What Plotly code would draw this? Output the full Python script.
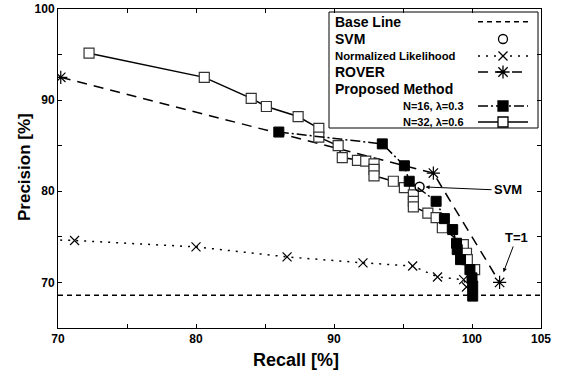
import plotly.graph_objects as go

# ---- data ----
baseline_x = [70, 105]
baseline_y = [68.6, 68.6]

svm_x = [96.2]
svm_y = [80.5]

nl_x = [69.0, 71.2, 80.0, 86.6, 92.1, 95.7, 97.5, 99.4, 99.6]
nl_y = [74.7, 74.6, 73.9, 72.8, 72.15, 71.8, 70.6, 70.3, 69.5]

rover_x = [70.2, 97.2, 102.0]
rover_y = [92.5, 82.0, 70.0]

n16_x = [86.0, 93.5, 95.1, 95.45, 97.4, 98.0, 98.6, 98.88, 98.93, 99.17, 99.85, 100.0, 100.05, 100.05]
n16_y = [86.5, 85.2, 82.8, 81.1, 78.9, 77.0, 75.8, 74.3, 73.6, 72.5, 71.4, 70.5, 69.6, 68.5]

n32_x = [72.25, 80.6, 84.0, 85.1, 87.4, 88.9, 88.9, 90.3, 90.6, 91.7, 92.3, 92.9, 92.9, 92.9,
         94.3, 95.1, 95.75, 95.75, 95.75, 96.8, 97.4, 97.85, 99.37, 99.6, 99.66, 100.19]
n32_y = [95.15, 92.5, 90.2, 89.3, 88.2, 86.9, 85.95, 85.0, 83.7, 83.4, 83.3, 83.0, 82.4, 81.7,
         81.1, 80.4, 79.6, 78.9, 78.3, 77.6, 77.1, 76.0, 74.15, 73.2, 72.5, 71.4]

x_ticks = [70, 75, 80, 85, 90, 95, 100, 105]
x_ticklabels = ["70", "", "80", "", "90", "", "100", "105"]
y_ticks = [65, 70, 75, 80, 85, 90, 95, 100]
y_ticklabels = ["", "70", "", "80", "", "90", "", "100"]

legend_labels = ["Base Line", "SVM", "Normalized Likelihood", "ROVER", "Proposed Method",
                 "N=16, λ=0.3", "N=32, λ=0.6"]

FONT = "Liberation Sans"
BLK = "black"
W, H = 561, 371
ML, MR, MT, MB = 58, 20, 9, 43


def px(v):
    return (v - ML) / (W - ML - MR)


def py(v):
    return (H - MB - v) / (H - MT - MB)


fig = go.Figure()

fig.add_trace(go.Scatter(x=baseline_x, y=baseline_y, mode="lines",
                         line=dict(color=BLK, width=1.5, dash="5px,4px"), showlegend=False))
fig.add_trace(go.Scatter(x=nl_x, y=nl_y, mode="lines+markers",
                         line=dict(color=BLK, width=1.5, dash="2px,6px"),
                         marker=dict(symbol="x-thin-open", size=9, color=BLK, line=dict(color=BLK, width=1.2)),
                         showlegend=False))
fig.add_trace(go.Scatter(x=rover_x, y=rover_y, mode="lines+markers",
                         line=dict(color=BLK, width=1.5, dash="10px,7px"),
                         marker=dict(symbol="asterisk-open", size=11, color=BLK, line=dict(color=BLK, width=1.2)),
                         showlegend=False))
fig.add_trace(go.Scatter(x=n32_x, y=n32_y, mode="lines+markers",
                         line=dict(color=BLK, width=1.5),
                         marker=dict(symbol="square", size=10, color="white", line=dict(color="#333", width=1.2)),
                         showlegend=False))
fig.add_trace(go.Scatter(x=n16_x, y=n16_y, mode="lines+markers",
                         line=dict(color=BLK, width=1.5, dash="10px,3px,2px,3px"),
                         marker=dict(symbol="square", size=10, color=BLK, line=dict(color=BLK, width=1)),
                         showlegend=False))
fig.add_trace(go.Scatter(x=svm_x, y=svm_y, mode="markers",
                         marker=dict(symbol="circle-open", size=9, color=BLK, line=dict(color=BLK, width=1.5)),
                         showlegend=False))

# ---- custom legend on a pixel-space overlay ----
rows = [21.7, 39, 56, 72, 89, 106, 122]
lx0, lx1, lxc = 478, 528, 503
leg_styles = [
    dict(dash="5px,4px", sym=None),
    dict(dash=None, sym=("circle-open", 9, BLK)),
    dict(dash="2px,6px", sym=("x-thin-open", 9, BLK)),
    dict(dash="10px,7px", sym=("asterisk-open", 11, BLK)),
    None,
    dict(dash="10px,3px,2px,3px", sym=("square", 10, BLK)),
    dict(dash="solid", sym=("square", 10, "white")),
]
for ry, st in zip(rows, leg_styles):
    if st is None:
        continue
    if st["dash"] is not None:
        fig.add_trace(go.Scatter(x=[lx0, lx1], y=[ry, ry], mode="lines", xaxis="x2", yaxis="y2",
                                 line=dict(color=BLK, width=1.5, dash=st["dash"]), showlegend=False,
                                 hoverinfo="skip"))
    if st["sym"] is not None:
        s, sz, fc = st["sym"]
        mk = dict(symbol=s, size=sz, color=fc, line=dict(color=BLK, width=1.3))
        fig.add_trace(go.Scatter(x=[lxc], y=[ry], mode="markers", xaxis="x2", yaxis="y2",
                                 marker=mk, showlegend=False, hoverinfo="skip"))

shapes = [dict(type="rect", xref="x2", yref="y2", x0=329, x1=538, y0=12, y1=128,
               line=dict(color=BLK, width=1), fillcolor="white", layer="below")]

annotations = []
sizes = [14, 14, 11.3, 14, 14, 11, 11]
for i, (lab, ry, fs) in enumerate(zip(legend_labels, rows, sizes)):
    if i >= 5:
        annotations.append(dict(x=466, y=ry, xref="x2", yref="y2", text=lab, showarrow=False,
                                xanchor="right", yanchor="middle",
                                font=dict(family=FONT, size=fs, color=BLK, weight="bold")))
    else:
        annotations.append(dict(x=333, y=ry, xref="x2", yref="y2", text=lab, showarrow=False,
                                xanchor="left", yanchor="middle",
                                font=dict(family=FONT, size=fs, color=BLK, weight="bold")))

annotations.append(dict(x=svm_x[0], y=svm_y[0], xref="x", yref="y", text="SVM",
                        showarrow=True, ax=72, ay=3, arrowhead=2, arrowsize=0.8, arrowwidth=1,
                        standoff=6, arrowcolor=BLK, xanchor="left",
                        font=dict(family=FONT, size=13, color=BLK, weight="bold")))
annotations.append(dict(x=rover_x[2], y=rover_y[2], xref="x", yref="y", text="T=1",
                        showarrow=True, ax=17, ay=-45, arrowhead=2, arrowsize=0.8, arrowwidth=1,
                        standoff=11, arrowcolor=BLK,
                        font=dict(family=FONT, size=13, color=BLK, weight="bold")))
# axis titles (paper coords)
annotations.append(dict(x=px(296), y=py(360), xref="paper", yref="paper", text="Recall [%]", showarrow=False,
                        xanchor="center", yanchor="middle",
                        font=dict(family=FONT, size=18, color=BLK, weight="bold")))
annotations.append(dict(x=px(24), y=py(167), xref="paper", yref="paper", text="Precision [%]",
                        showarrow=False, textangle=-90, xanchor="center", yanchor="middle",
                        font=dict(family=FONT, size=17, color=BLK, weight="bold")))

axis_common = dict(showline=True, linecolor=BLK, linewidth=1, mirror="ticks", ticks="inside",
                   ticklen=4, tickcolor=BLK, showgrid=False, zeroline=False, automargin=False,
                   tickfont=dict(family=FONT, size=12, color=BLK, weight="bold"))

fig.update_layout(
    width=W, height=H,
    margin=dict(l=ML, r=MR, t=MT, b=MB),
    plot_bgcolor="white", paper_bgcolor="white",
    showlegend=False,
    xaxis=dict(range=[70, 105], tickvals=x_ticks, ticktext=x_ticklabels, **axis_common),
    yaxis=dict(range=[65, 100], tickvals=y_ticks, ticktext=y_ticklabels, **axis_common),
    xaxis2=dict(overlaying="x", range=[ML, W - MR], visible=False, fixedrange=True),
    yaxis2=dict(overlaying="y", range=[H - MB, MT], visible=False, fixedrange=True),
    shapes=shapes,
    annotations=annotations,
)

fig.write_html("out.html", config={"displayModeBar": False},
               post_script="document.body.style.margin='0';document.body.style.padding='0';")
